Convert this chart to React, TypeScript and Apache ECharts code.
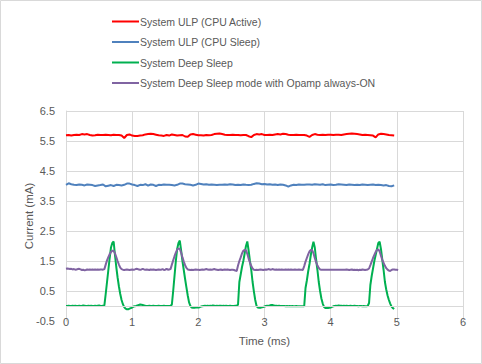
import React, { useEffect, useRef } from "react";
import * as echarts from "echarts";

// Series names (legend order)
const seriesNames = [
  "System ULP (CPU Active)",
  "System ULP (CPU Sleep)",
  "System Deep Sleep",
  "System Deep Sleep mode with Opamp always-ON",
];

// Sampling steps in ms
const coarseStep = 0.04;
const fineStep = 0.02;

// x-axis ticks
const timeTicks = [0, 1, 2, 3, 4, 5, 6];

// Current in mA, sampled every 0.04 ms from 0 to 4.96 ms
const ulpActive = [
  5.69, 5.70, 5.68, 5.70, 5.71, 5.70, 5.73, 5.72, 5.73, 5.70,
  5.68, 5.69, 5.71, 5.70, 5.70, 5.71, 5.70, 5.69, 5.71, 5.70,
  5.70, 5.68, 5.60, 5.70, 5.72, 5.68, 5.67, 5.67, 5.68, 5.69,
  5.72, 5.73, 5.74, 5.73, 5.71, 5.69, 5.68, 5.67, 5.70, 5.68,
  5.72, 5.70, 5.68, 5.69, 5.70, 5.65, 5.64, 5.72, 5.73, 5.71,
  5.69, 5.69, 5.68, 5.70, 5.69, 5.70, 5.73, 5.74, 5.75, 5.73,
  5.71, 5.70, 5.70, 5.71, 5.70, 5.70, 5.69, 5.70, 5.70, 5.66,
  5.63, 5.70, 5.73, 5.72, 5.73, 5.70, 5.70, 5.71, 5.70, 5.72,
  5.73, 5.72, 5.74, 5.73, 5.71, 5.70, 5.70, 5.71, 5.70, 5.70,
  5.70, 5.68, 5.64, 5.70, 5.73, 5.71, 5.70, 5.71, 5.70, 5.71,
  5.71, 5.70, 5.71, 5.71, 5.70, 5.72, 5.73, 5.74, 5.75, 5.74,
  5.73, 5.72, 5.70, 5.71, 5.70, 5.69, 5.68, 5.62, 5.72, 5.74,
  5.73, 5.72, 5.70, 5.69, 5.68,
];

const ulpSleep = [
  4.04, 4.09, 4.06, 4.04, 4.03, 4.05, 4.04, 4.02, 4.05, 4.04,
  4.03, 4.00, 4.02, 4.03, 4.05, 3.99, 4.01, 4.03, 4.00, 4.04,
  4.03, 4.02, 4.04, 4.08, 4.08, 4.05, 4.03, 4.00, 4.04, 4.03,
  4.06, 4.01, 4.05, 4.04, 4.00, 4.04, 4.03, 4.05, 4.04, 4.04,
  4.03, 4.02, 4.04, 4.08, 4.08, 4.06, 4.05, 4.04, 4.02, 4.04,
  4.08, 4.07, 4.05, 4.06, 4.04, 4.05, 4.04, 4.03, 4.04, 4.04,
  4.05, 4.04, 4.06, 4.05, 4.03, 4.04, 4.03, 4.05, 4.04, 4.03,
  4.04, 4.07, 4.09, 4.08, 4.06, 4.07, 4.05, 4.06, 4.04, 4.05,
  4.03, 4.05, 4.04, 4.02, 3.98, 4.02, 4.04, 4.03, 4.05, 4.04,
  4.04, 4.05, 4.05, 4.04, 4.06, 4.05, 4.04, 4.06, 4.03, 4.04,
  4.05, 4.03, 4.04, 4.06, 4.05, 4.04, 4.03, 4.05, 4.04, 4.03,
  4.04, 4.03, 4.05, 4.04, 4.03, 4.04, 4.05, 4.03, 4.04, 4.03,
  4.02, 4.03, 4.00, 3.99, 4.02,
];

// Current in mA, sampled every 0.02 ms from 0 to 4.96 ms
const deepSleep = [
  0.00, 0.00, 0.01, 0.00, 0.00, 0.01, 0.00, 0.01, 0.00, 0.00,
  0.01, 0.00, 0.00, 0.02, 0.01, 0.00, 0.00, 0.01, 0.00, 0.01,
  0.00, 0.00, 0.01, 0.00, 0.01, 0.02, 0.00, 0.00, 0.01, 0.02,
  0.40, 0.80, 1.20, 1.60, 1.95, 2.10, 2.15, 1.70, 1.30, 0.95,
  0.65, 0.40, 0.20, 0.06, -0.04, -0.09, -0.11, -0.11, -0.09, -0.07,
  -0.05, -0.02, -0.01, 0.00, 0.02, 0.03, 0.05, 0.04, 0.03, 0.02,
  0.01, 0.00, 0.00, 0.01, 0.00, 0.00, 0.01, 0.00, 0.00, 0.00,
  0.01, 0.00, 0.00, 0.00, 0.01, 0.00, 0.00, 0.00, 0.00, 0.00,
  0.05, 0.50, 1.00, 1.50, 1.90, 2.10, 2.18, 1.85, 1.50, 1.20,
  0.90, 0.62, 0.35, 0.12, 0.00, -0.05, -0.06, -0.06, -0.05, -0.05,
  -0.05, -0.04, -0.02, -0.01, 0.00, 0.01, 0.00, 0.01, 0.00, 0.01,
  0.00, 0.02, 0.01, 0.00, 0.01, 0.00, 0.01, 0.01, 0.00, 0.01,
  0.00, 0.01, 0.00, 0.00, 0.01, 0.00, 0.00, 0.00, 0.01, 0.00,
  0.05, 0.80, 1.05, 1.30, 1.50, 1.75, 2.00, 2.15, 1.85, 1.50,
  1.20, 0.80, 0.48, 0.20, 0.00, -0.05, -0.06, -0.06, -0.04, -0.03,
  -0.02, 0.00, 0.01, 0.00, 0.02, 0.03, 0.03, 0.02, 0.01, 0.01,
  0.00, 0.01, 0.00, 0.00, 0.00, 0.00, -0.01, 0.00, -0.01, 0.00,
  -0.01, 0.00, -0.01, -0.01, 0.00, -0.01, -0.01, -0.01, -0.01, -0.01,
  -0.01, 0.60, 0.85, 1.15, 1.40, 1.70, 1.95, 2.14, 1.95, 1.55,
  1.20, 0.80, 0.50, 0.25, 0.08, -0.03, -0.07, -0.07, -0.07, -0.06,
  -0.05, -0.03, -0.01, 0.00, 0.01, 0.00, 0.02, 0.01, 0.01, 0.00,
  0.01, 0.00, 0.01, 0.00, 0.00, 0.01, 0.00, 0.00, 0.01, 0.00,
  0.00, -0.01, 0.00, 0.00, -0.01, 0.00, -0.01, -0.01, 0.00, 0.10,
  0.70, 1.00, 1.25, 1.50, 1.70, 1.90, 2.10, 2.14, 1.90, 1.55,
  1.20, 0.80, 0.55, 0.35, 0.20, 0.08, -0.02, -0.07, -0.10,
];

// Current in mA, sampled every 0.02 ms from 0 to 5.02 ms
const deepSleepOpamp = [
  1.24, 1.25, 1.24, 1.23, 1.24, 1.22, 1.23, 1.21, 1.22, 1.23,
  1.24, 1.22, 1.20, 1.21, 1.19, 1.20, 1.22, 1.21, 1.22, 1.21,
  1.22, 1.21, 1.22, 1.21, 1.22, 1.21, 1.22, 1.22, 1.21, 1.23,
  1.38, 1.52, 1.63, 1.73, 1.80, 1.84, 1.84, 1.76, 1.63, 1.50,
  1.38, 1.28, 1.23, 1.21, 1.20, 1.21, 1.22, 1.21, 1.20, 1.21,
  1.22, 1.21, 1.22, 1.24, 1.23, 1.22, 1.21, 1.22, 1.24, 1.22,
  1.21, 1.22, 1.21, 1.20, 1.22, 1.21, 1.22, 1.21, 1.20, 1.21,
  1.22, 1.21, 1.21, 1.23, 1.20, 1.21, 1.24, 1.21, 1.22, 1.23,
  1.38, 1.52, 1.66, 1.78, 1.88, 1.92, 1.90, 1.78, 1.62, 1.48,
  1.36, 1.27, 1.22, 1.21, 1.20, 1.21, 1.20, 1.21, 1.22, 1.21,
  1.21, 1.20, 1.21, 1.22, 1.21, 1.22, 1.23, 1.22, 1.21, 1.22,
  1.21, 1.22, 1.23, 1.22, 1.21, 1.20, 1.21, 1.22, 1.20, 1.21,
  1.22, 1.21, 1.22, 1.21, 1.20, 1.21, 1.21, 1.20, 1.18, 1.17,
  1.35, 1.50, 1.62, 1.75, 1.84, 1.87, 1.86, 1.74, 1.58, 1.45,
  1.33, 1.25, 1.21, 1.20, 1.21, 1.20, 1.21, 1.22, 1.21, 1.20,
  1.21, 1.22, 1.21, 1.23, 1.22, 1.21, 1.23, 1.22, 1.21, 1.22,
  1.21, 1.22, 1.21, 1.22, 1.21, 1.21, 1.22, 1.21, 1.22, 1.21,
  1.22, 1.21, 1.21, 1.22, 1.21, 1.21, 1.22, 1.21, 1.21, 1.20,
  1.33, 1.48, 1.60, 1.72, 1.82, 1.87, 1.86, 1.76, 1.60, 1.46,
  1.35, 1.27, 1.22, 1.21, 1.21, 1.21, 1.21, 1.21, 1.21, 1.21,
  1.21, 1.21, 1.21, 1.21, 1.21, 1.21, 1.21, 1.21, 1.21, 1.21,
  1.21, 1.21, 1.22, 1.21, 1.20, 1.21, 1.22, 1.20, 1.21, 1.20,
  1.21, 1.19, 1.21, 1.20, 1.22, 1.21, 1.20, 1.21, 1.22, 1.25,
  1.36, 1.48, 1.60, 1.70, 1.80, 1.87, 1.89, 1.82, 1.68, 1.54,
  1.44, 1.34, 1.26, 1.21, 1.18, 1.17, 1.20, 1.22, 1.22, 1.21,
  1.21, 1.20,
];

const seriesColors = ["#FF0000", "#4F81BD", "#00B050", "#8064A2"];

const FONT = "Liberation Sans, Arial, sans-serif";
const TEXT_COLOR = "#595959";
const GRID_COLOR = "#d9d9d9";

function toPairs(values: number[], step: number): [number, number][] {
  return values.map((v, i) => [Math.round(i * step * 100) / 100, v]);
}

export default function App() {
  const ref = useRef<HTMLDivElement>(null);

  useEffect(() => {
    if (!ref.current) return;
    const chart = echarts.init(ref.current, null, { renderer: "svg" });

    const seriesData = [
      toPairs(ulpActive, coarseStep),
      toPairs(ulpSleep, coarseStep),
      toPairs(deepSleep, fineStep),
      toPairs(deepSleepOpamp, fineStep),
    ];

    chart.setOption({
      animation: false,
      backgroundColor: "#ffffff",
      textStyle: { fontFamily: FONT },
      graphic: [
        {
          type: "rect",
          shape: { x: 0.5, y: 0.5, width: 481, height: 363 },
          style: { fill: "none", stroke: GRID_COLOR, lineWidth: 1 },
          silent: true,
          z: -1,
        },
      ],
      legend: {
        orient: "vertical",
        left: 107,
        top: 11,
        itemWidth: 27,
        itemHeight: 2,
        itemGap: 9.5,
        icon: "rect",
        data: seriesNames,
        textStyle: { color: TEXT_COLOR, fontSize: 10.5, fontFamily: FONT, padding: [0, 0, 0, -4] },
      },
      grid: { left: 66, right: 19, top: 111, bottom: 43, containLabel: false },
      xAxis: {
        type: "value",
        min: timeTicks[0],
        max: timeTicks[timeTicks.length - 1],
        interval: 1,
        name: "Time (ms)",
        nameLocation: "middle",
        nameGap: 14,
        nameMoveOverlap: false,
        nameTextStyle: { color: TEXT_COLOR, fontSize: 11.5, fontFamily: FONT },
        axisLine: { show: false },
        axisTick: { show: false },
        axisLabel: { color: TEXT_COLOR, fontSize: 11, fontFamily: FONT, margin: -5 },
        splitLine: { show: true, showMinLine: false, lineStyle: { color: GRID_COLOR, width: 1 } },
      },
      yAxis: {
        type: "value",
        min: -0.5,
        max: 6.5,
        interval: 0.5,
        name: "Current (mA)",
        nameLocation: "middle",
        nameGap: 31,
        nameMoveOverlap: false,
        nameTextStyle: { color: TEXT_COLOR, fontSize: 11.5, fontFamily: FONT },
        axisLine: { show: true, onZero: false, lineStyle: { color: GRID_COLOR, width: 1 } },
        axisTick: { show: false },
        axisLabel: {
          color: TEXT_COLOR,
          fontSize: 11,
          fontFamily: FONT,
          margin: 11,
          formatter: (v: number) => (Math.abs((v * 2) % 2) === 1 ? v.toFixed(1) : ""),
        },
        splitLine: {
          show: true,
          showMinLine: false,
          lineStyle: { color: ["transparent", GRID_COLOR], width: 1 },
        },
      },
      series: seriesNames.map((name, i) => ({
        name,
        type: "line",
        data: seriesData[i],
        symbol: "none",
        showSymbol: false,
        lineStyle: { color: seriesColors[i], width: 2 },
        itemStyle: { color: seriesColors[i] },
        z: 2 + i,
        markLine:
          i === 0
            ? {
                silent: true,
                symbol: "none",
                label: { show: false },
                lineStyle: { color: GRID_COLOR, type: "solid", width: 1 },
                data: [{ yAxis: 0 }],
              }
            : undefined,
      })),
    });

    return () => chart.dispose();
  }, []);

  return (
    <div
      ref={ref}
      style={{ position: "fixed", left: 0, top: 0, width: 482, height: 364 }}
    />
  );
}
